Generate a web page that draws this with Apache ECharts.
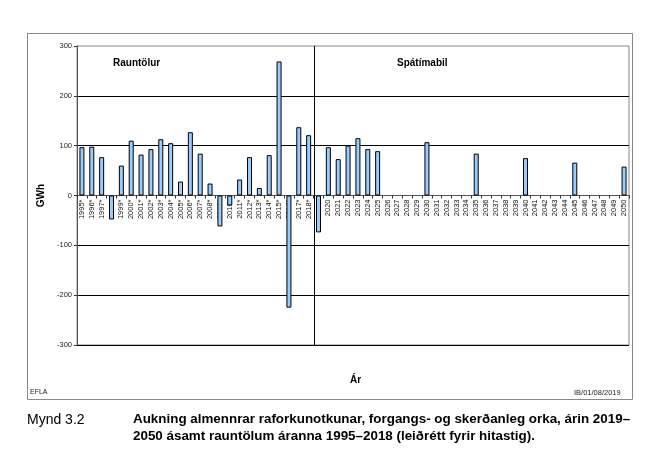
<!DOCTYPE html>
<html><head><meta charset="utf-8">
<script src="https://cdn.jsdelivr.net/npm/echarts@6/dist/echarts.min.js"></script>
<style>html,body{margin:0;padding:0;background:#fff}#c{width:661px;height:457px}</style>
</head><body><div id="c"></div>
<script>
const years = ["1995*","1996*","1997*","1998*","1999*","2000*","2001*","2002*","2003*","2004*","2005*","2006*","2007*","2008*","2009*","2010*","2011*","2012*","2013*","2014*","2015*","2016*","2017*","2018*",
"2019","2020","2021","2022","2023","2024","2025","2026","2027","2028","2029","2030","2031","2032","2033","2034","2035","2036","2037","2038","2039","2040","2041","2042","2043","2044","2045","2046","2047","2048","2049","2050"];
const actual = [97,98,77,-48,60,110,82,93,113,105,28,127,84,24,-62,-20,32,77,15,81,269,-225,137,121];
const forecast = [-74,97,73,100,115,93,89,null,null,null,null,107,null,null,null,null,84,null,null,null,null,75,null,null,null,null,66,null,null,null,null,58];
const values = actual.concat(forecast);
const yTicks = [-300,-200,-100,0,100,200,300];

const chart = echarts.init(document.getElementById('c'), null, {renderer:'canvas'});
const F = 'Liberation Sans, Arial, sans-serif';
const gridTop = 46, gridBottom = 112, H = 457;
const plotH = H - gridTop - gridBottom;
chart.setOption({
  animation:false,
  grid:{left:77,right:32,top:gridTop,bottom:gridBottom,show:true,borderColor:'#888',borderWidth:1},
  xAxis:{
    type:'category', data:years, boundaryGap:true,
    offset:-plotH/2,
    axisLine:{onZero:false,lineStyle:{color:'#555',width:1}},
    axisTick:{show:true,length:3,lineStyle:{color:'#333'}},
    axisLabel:{rotate:90,fontSize:7.5,fontFamily:F,color:'#111',margin:4,interval:0},
    splitLine:{show:false}
  },
  yAxis:{
    type:'value', min:yTicks[0], max:yTicks[yTicks.length-1], interval:100,
    name:'GWh', nameLocation:'middle', nameRotate:90, nameGap:24,
    nameTextStyle:{fontSize:10,fontWeight:'bold',fontFamily:F,color:'#000'},
    axisLine:{show:true,lineStyle:{color:'#555',width:1}},
    axisTick:{show:true,length:3,lineStyle:{color:'#333'}},
    axisLabel:{fontSize:7.5,fontFamily:F,color:'#222',margin:5},
    splitLine:{show:true,showMaxLine:false,lineStyle:{color:'#000',width:1}}
  },
  series:[{
    type:'bar', data:values, barWidth:5, z:3,
    itemStyle:{color:'#99CCFF',borderColor:'#000',borderWidth:1}
  }],
  graphic:[
    {id:'frame',type:'rect',shape:{x:27.5,y:33.5,width:605,height:366},style:{fill:null,stroke:'#888',lineWidth:1},z:-1},
    {id:'t1',type:'text',left:113,top:58,style:{text:'Rauntölur',font:'bold 10px '+F,fill:'#000'}},
    {id:'t2',type:'text',left:397,top:58,style:{text:'Spátímabil',font:'bold 10px '+F,fill:'#000'}},
    {id:'t3',type:'text',left:350,top:375,style:{text:'Ár',font:'bold 10px '+F,fill:'#000'}},
    {id:'t4',type:'text',left:30,top:389,style:{text:'EFLA',font:'7px '+F,fill:'#222'}},
    {id:'t5',type:'text',left:574,top:389,style:{text:'IB/01/08/2019',font:'7.5px '+F,fill:'#222'}},
    {id:'t6',type:'text',left:27,top:413,style:{text:'Mynd 3.2',font:'14px '+F,fill:'#000'}},
    {id:'t7',type:'text',left:133,top:413,style:{text:'Aukning almennrar raforkunotkunar, forgangs- og skerðanleg orka, árin 2019–',font:'bold 13.4px '+F,fill:'#000'}},
    {id:'t8',type:'text',left:133,top:430,style:{text:'2050 ásamt rauntölum áranna 1995–2018 (leiðrétt fyrir hitastig).',font:'bold 13.4px '+F,fill:'#000'}}
  ]
});
// divider between measured (1995-2018) and forecast (2019-2050)
const xa = chart.convertToPixel({xAxisIndex:0}, 23);
const xb = chart.convertToPixel({xAxisIndex:0}, 24);
const yTop = chart.convertToPixel({yAxisIndex:0}, yTicks[yTicks.length-1]);
const yBot = chart.convertToPixel({yAxisIndex:0}, yTicks[0]);
const xm = Math.round((xa+xb)/2) + 0.5;
chart.setOption({graphic:[{id:'divider',type:'line',shape:{x1:xm,y1:yTop,x2:xm,y2:yBot},style:{stroke:'#000',lineWidth:1},z:1}]});
</script></body></html>
